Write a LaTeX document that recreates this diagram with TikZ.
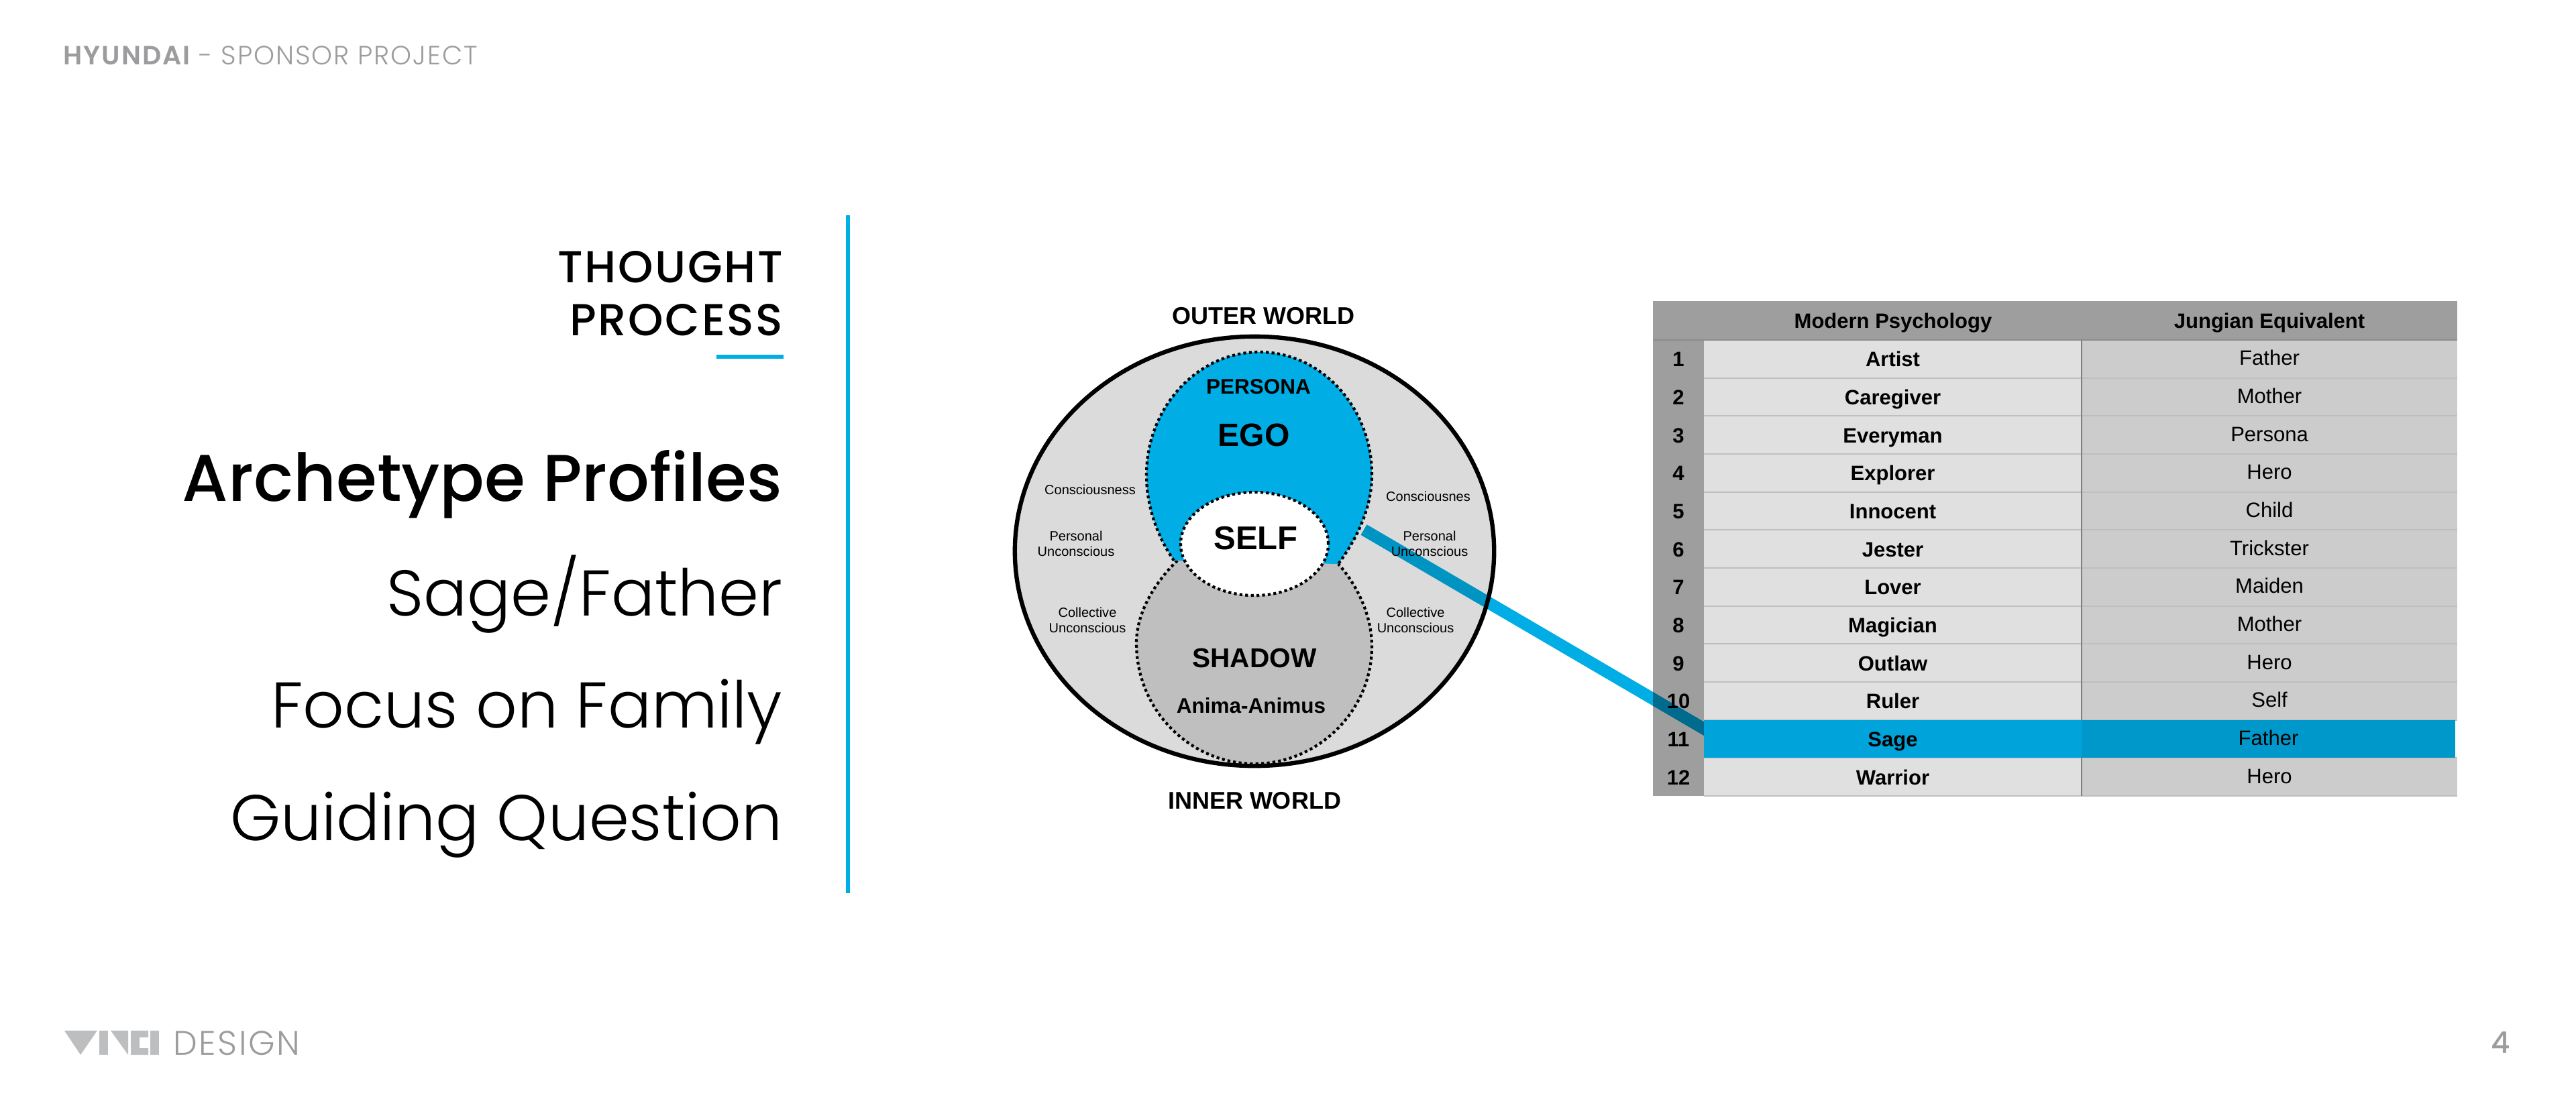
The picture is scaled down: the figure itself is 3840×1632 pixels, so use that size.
\documentclass[tikz,border=0pt]{standalone}
\usepackage{fontspec}
\setmainfont{Liberation Sans}
\newfontfamily\lightfont{Poppins Light}
\newfontfamily\mediumfont{Poppins Medium}
\newfontfamily\spacedmedium{Poppins Medium}[LetterSpace=4]
\newfontfamily\spacedsemi{Poppins SemiBold}[LetterSpace=5]
\newfontfamily\spacedlight{Poppins Light}[LetterSpace=5]
\definecolor{vinciblue}{HTML}{00ADE4}
\definecolor{sagedark}{HTML}{0098CB}
\definecolor{sagelight}{HTML}{00A3DA}
\definecolor{footgrey}{HTML}{9C9C9E}
\definecolor{logogrey}{HTML}{BCBEC0}

\tikzset{
  menuitem/.style={anchor=base east,inner sep=0pt,font=\lightfont\fontsize{27.4}{27.4}\selectfont},
  menuhead/.style={anchor=base east,inner sep=0pt,font=\spacedmedium\fontsize{19}{19}\selectfont},
  arch/.style={font=\bfseries\fontsize{8.96}{8.96}\selectfont,inner sep=0pt},
  small/.style={font=\fontsize{5.69}{6.4}\selectfont,align=center,inner sep=0pt},
  dotline/.style={line width=1.2pt,dash pattern=on 1.2pt off 1.2pt},
  cell/.style={inner sep=0pt,text depth=0pt,minimum height=.567cm,font=\fontsize{8.82}{8.82}\selectfont},
  boldcell/.style={cell,font=\bfseries\fontsize{8.82}{8.82}\selectfont},
  numcell/.style={boldcell,text height=6.54pt,minimum width=.76cm},
  modern/.style={boldcell,fill=black!12,minimum width=5.63cm,text height=6.54pt},
  jung/.style={cell,fill=black!20,minimum width=5.6cm,text height=5.5pt}
}

\begin{document}
\begin{tikzpicture}[x=.01cm,y=-.01cm]
\useasboundingbox (0,0) rectangle (3840,1632);

% Draw page header and footer
\node[anchor=base west,inner sep=0pt,text=footgrey] (header) at (94,96)
  {\fontsize{11.2}{11.2}\selectfont{\spacedsemi HYUNDAI}{\spacedlight\ - SPONSOR PROJECT}};
\node[anchor=base west,inner sep=0pt,text=footgrey,font=\spacedlight\fontsize{14.4}{14.4}\selectfont] (design) at (258,1573) {DESIGN};
\node[anchor=base east,inner sep=0pt,text=footgrey,font=\mediumfont\fontsize{12.5}{12.5}\selectfont] (pagenum) at (3743,1570) {4};

% Draw logo
\fill[logogrey] (96,1537) -- (145,1537) -- (120,1573) -- cycle;
\fill[logogrey] (148,1537) rectangle (161,1573);
\fill[logogrey] (165,1537) -- (191,1537) -- (191,1573) -- cycle;
\fill[logogrey] (195,1537) -- (221,1537) -- (221,1547) -- (208,1547) -- (208,1563) -- (221,1563) -- (221,1573) -- (195,1573) -- cycle;
\fill[logogrey] (224,1537) rectangle (237,1573);

% Draw left menu
\node[menuhead] (thought) at (1168,421) {THOUGHT};
\node[menuhead] (process) at (1168,500) {PROCESS};
\fill[vinciblue] (1068,529) rectangle (1168,535);
\node[menuitem,font=\mediumfont\fontsize{28}{28}\selectfont] (archetype) at (1167,747) {Archetype Profiles};
\node[menuitem] (sage) at (1167,918) {Sage/Father};
\node[menuitem] (focus) at (1167,1085) {Focus on Family};
\node[menuitem] (guiding) at (1167,1253) {Guiding Question};
\fill[vinciblue] (1261,321) rectangle (1267,1332);

% Draw outer circle
\fill[black!14] (1870,822) ellipse (3.57cm and 3.2cm);

% Draw header row of table
\fill[black!38] (2464,449) rectangle (3663,507);
\fill[black!38] (2464,507) rectangle (2540,1187);
\node[font=\bfseries\fontsize{8.82}{8.82}\selectfont,inner sep=0pt] (modernhead) at (2822,482) {Modern Psychology};
\node[font=\bfseries\fontsize{8.82}{8.82}\selectfont,inner sep=0pt] (junghead) at (3383,482) {Jungian Equivalent};

% Draw number column
\node[numcell] (n1) at (2502,535) {1};
\node[numcell] (n2) at (2502,592) {2};
\node[numcell] (n3) at (2502,649) {3};
\node[numcell] (n4) at (2502,705) {4};
\node[numcell] (n5) at (2502,762) {5};
\node[numcell] (n6) at (2502,819) {6};
\node[numcell] (n7) at (2502,875) {7};
\node[numcell] (n8) at (2502,932) {8};
\node[numcell] (n9) at (2502,989) {9};
\node[numcell] (n10) at (2502,1045) {10};
\node[numcell] (n11) at (2502,1102) {11};
\node[numcell] (n12) at (2502,1159) {12};

% Draw first column
\node[modern] (artist) at (2821.5,535) {Artist};
\node[modern] (caregiver) at (2821.5,592) {Caregiver};
\node[modern] (everyman) at (2821.5,649) {Everyman};
\node[modern] (explorer) at (2821.5,705) {Explorer};
\node[modern] (innocent) at (2821.5,762) {Innocent};
\node[modern] (jester) at (2821.5,819) {Jester};
\node[modern] (lover) at (2821.5,875) {Lover};
\node[modern] (magician) at (2821.5,932) {Magician};
\node[modern] (outlaw) at (2821.5,989) {Outlaw};
\node[modern] (ruler) at (2821.5,1045) {Ruler};
\node[modern] (warrior) at (2821.5,1159) {Warrior};

% Draw second column
\node[jung] (father) at (3383,535) {Father};
\node[jung] (mother) at (3383,592) {Mother};
\node[jung] (persona) at (3383,649) {Persona};
\node[jung] (hero) at (3383,705) {Hero};
\node[jung] (child) at (3383,762) {Child};
\node[jung] (trickster) at (3383,819) {Trickster};
\node[jung] (maiden) at (3383,875) {Maiden};
\node[jung] (mothertwo) at (3383,932) {Mother};
\node[jung] (herotwo) at (3383,989) {Hero};
\node[jung] (selfrow) at (3383,1045) {Self};
\node[jung] (herothree) at (3383,1159) {Hero};

% Draw row lines
\foreach \y in {564,620,677,734,790,847,904,960,1017,1074,1130,1187}
  \draw[black!25,line width=.6pt] (2540,\y) -- (3663,\y);
\draw[black!45,line width=.8pt] (2464,507) -- (3663,507);
\draw[black!50,line width=.6pt] (3103,507) -- (3103,1187);

% Draw pointer line
\coordinate (egoedge) at (2033,790);
\coordinate (sagetip) at (2549,1092);
\draw[vinciblue,line width=5.1pt,blend mode=multiply] (egoedge) -- (sagetip);
\draw[line width=1.8pt] (1870,822) ellipse (3.57cm and 3.2cm);

% Draw highlighted row
\node[modern,fill=sagelight] (sagecell) at (2821.5,1102) {Sage};
\node[jung,fill=sagedark,minimum width=5.57cm] (fathercell) at (3381.5,1102) {Father};

% Draw shadow
\fill[black!25] (1755,836) .. controls (1720,870) and (1694,915) .. (1694,959) .. controls (1694,1060) and (1775,1139) .. (1870,1139) .. controls (1965,1139) and (2045,1060) .. (2045,964) .. controls (2045,920) and (2025,875) .. (1995,841) -- cycle;
\draw[dotline] (1755,836) .. controls (1720,870) and (1694,915) .. (1694,959) .. controls (1694,1060) and (1775,1139) .. (1870,1139) .. controls (1965,1139) and (2045,1060) .. (2045,964) .. controls (2045,920) and (2025,875) .. (1995,841);

% Draw ego
\fill[vinciblue] (1750,836) .. controls (1725,800) and (1709,755) .. (1709,708) .. controls (1709,608) and (1785,525) .. (1877,525) .. controls (1970,525) and (2045,608) .. (2045,708) .. controls (2045,755) and (2025,800) .. (1995,841) -- cycle;
\draw[dotline] (1750,836) .. controls (1725,800) and (1709,755) .. (1709,708) .. controls (1709,608) and (1785,525) .. (1877,525) .. controls (1970,525) and (2045,608) .. (2045,708) .. controls (2045,755) and (2025,800) .. (1995,841);

% Draw self
\draw[dotline,fill=white] (1870,811) ellipse (1.1cm and .77cm);

% Draw circle labels
\node[arch,font=\bfseries\fontsize{10.24}{10.24}\selectfont] (outer) at (1883,471) {OUTER WORLD};
\node[arch,font=\bfseries\fontsize{10.24}{10.24}\selectfont] (inner) at (1870,1194) {INNER WORLD};
\node[arch] (personalabel) at (1876,577) {PERSONA};
\node[arch,font=\bfseries\fontsize{13.66}{13.66}\selectfont] (ego) at (1869,649) {EGO};
\node[arch,font=\bfseries\fontsize{13.94}{13.94}\selectfont] (self) at (1872,803) {SELF};
\node[arch,font=\bfseries\fontsize{11.55}{11.55}\selectfont] (shadow) at (1870,981) {SHADOW};
\node[arch] (anima) at (1865,1052) {Anima-Animus};
\node[small] (conleft) at (1625,730) {Consciousness};
\node[small] (perleft) at (1604,811) {Personal\\Unconscious};
\node[small] (colleft) at (1621,925) {Collective\\Unconscious};
\node[small] (conright) at (2129,740) {Consciousnes};
\node[small] (perright) at (2131,811) {Personal\\Unconscious};
\node[small] (colright) at (2110,925) {Collective\\Unconscious};

\end{tikzpicture}
\end{document}
